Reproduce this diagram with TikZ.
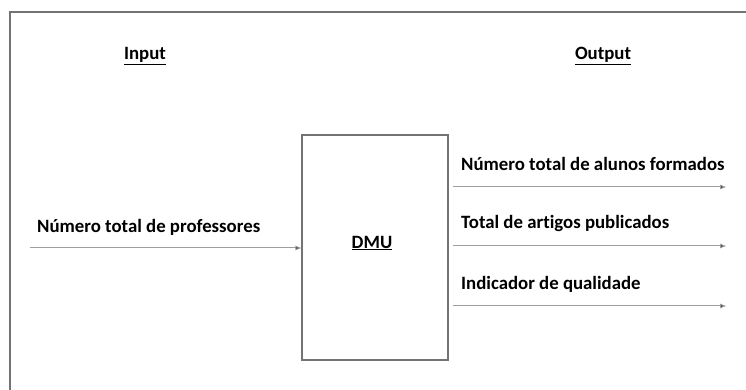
\documentclass[tikz,border=0pt]{standalone}
\usepackage{fontspec}
\setmainfont{Carlito}[Ligatures=NoCommon]
\usetikzlibrary{arrows.meta}
\begin{document}
\begin{tikzpicture}[x=1pt,y=1pt,
  lbl/.style={font=\fontsize{18.8}{21}\selectfont\bfseries, inner sep=0pt, anchor=west},
  hdr/.style={font=\fontsize{18.8}{21}\selectfont\bfseries, inner sep=0pt},
  flow/.style={draw=black!38, line width=1pt, -{Triangle[length=6pt,width=4.5pt,fill=black]}},
  frame/.style={draw=black!55, line width=1.3pt},
  dmubox/.style={draw=black!55, line width=1.5pt, minimum width=146pt, minimum height=225pt, inner sep=0pt}]
\useasboundingbox (0,0) rectangle (746,390);
\draw[frame] (10,0) -- (10,378) -- (746,378);
\node[hdr] (in) at (145,334) {\underline{Input}};
\node[hdr] (out) at (603,334) {\underline{Output}};
\node[dmubox] (dmu) at (375,142.5) {};
\node[hdr] (dmut) at (372,147) {\underline{DMU}};
\coordinate (i0) at (30,142);
\draw[flow] (i0) -- (dmu.west |- i0);
\node[lbl] (il) at (37,163) {Número total de professores};
\coordinate (o1s) at (453,203);
\coordinate (o1e) at (726,203);
\coordinate (o2s) at (453,144);
\coordinate (o2e) at (726,144);
\coordinate (o3s) at (453,84);
\coordinate (o3e) at (726,84);
\draw[flow] (o1s) -- (o1e);
\draw[flow] (o2s) -- (o2e);
\draw[flow] (o3s) -- (o3e);
\node[lbl] (l1) at (461,226) {Número total de alunos formados};
\node[lbl] (l2) at (461,166) {Total de artigos publicados};
\node[lbl] (l3) at (461,106) {Indicador de qualidade};
\end{tikzpicture}
\end{document}
